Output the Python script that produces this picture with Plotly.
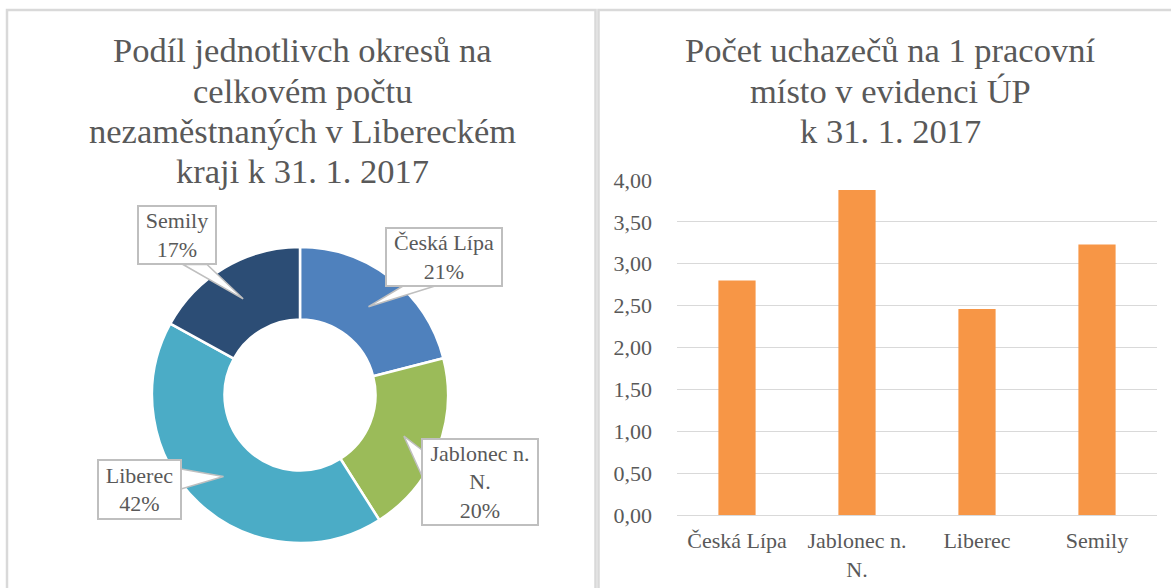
import math
import plotly.graph_objects as go

W, H = 1171, 588

# ---------------- data ----------------
districts = ["Česká Lípa", "Jablonec n. N.", "Liberec", "Semily"]
callout_names = ["Česká Lípa", "Jablonec n.<br>N.", "Liberec", "Semily"]
share_pct = [21, 20, 42, 17]
share_colors = ["#4F81BD", "#9BBB59", "#4BACC6", "#2C4D75"]

bar_categories = ["Česká Lípa", "Jablonec n.<br>N.", "Liberec", "Semily"]
applicants_per_job = [2.80, 3.88, 2.46, 3.23]
y_tick_values = [0, 0.5, 1.0, 1.5, 2.0, 2.5, 3.0, 3.5, 4.0]

left_title_lines = ["Podíl jednotlivch okresů na", "celkovém počtu",
                    "nezaměstnaných v Libereckém", "kraji k 31. 1. 2017"]
right_title_lines = ["Počet uchazečů na 1 pracovní", "místo v evidenci ÚP",
                     "k 31. 1. 2017"]

# ---------------- layout constants ----------------
TXT = "#595959"
FONT = "'Liberation Serif', 'Times New Roman', Tinos, 'DejaVu Serif', serif"
GRID = "#D9D9D9"

# donut geometry (pixels)
CX, CY, R_OUT, HOLE = 300, 395, 148, 0.51
R_MID = R_OUT * (1 + HOLE) / 2

# bar plot area (pixels)
PX0, PX1, PY_TOP, PY_BOT = 677, 1157, 180, 515


def px(x):
    return x / W


def py(y):
    return 1 - y / H


fig = go.Figure()

fig.add_trace(go.Pie(
    labels=districts, values=share_pct, sort=False, direction="clockwise",
    hole=HOLE, marker=dict(colors=share_colors, line=dict(color="white", width=2.5)),
    textinfo="none", showlegend=False, hoverinfo="label+percent",
    domain=dict(x=[px(CX - R_OUT), px(CX + R_OUT)], y=[py(CY + R_OUT), py(CY - R_OUT)]),
))

fig.add_trace(go.Bar(
    x=bar_categories, y=applicants_per_job, marker=dict(color="#F79646", line=dict(width=0)),
    xaxis="x", yaxis="y", showlegend=False,
))

# callout boxes (centre x, centre y, width, height) and wedge bases
callout_boxes = {
    "Česká Lípa": dict(cx=444, cy=257, w=118, h=60, base=("bottom", 403, 435)),
    "Jablonec n. N.": dict(cx=480, cy=482, w=118, h=88, base=("left", 450, 476)),
    "Liberec": dict(cx=139.5, cy=489.5, w=85, h=61, base=("right", 469, 489)),
    "Semily": dict(cx=177, cy=235.5, w=80, h=60, base=("bottom", 183, 207)),
}

annotations = []
shapes = []

# panel borders
shapes.append(dict(type="rect", xref="paper", yref="paper", x0=px(7), x1=px(595.5),
                   y0=py(600), y1=py(10), line=dict(color=GRID, width=2.5), layer="below"))
shapes.append(dict(type="rect", xref="paper", yref="paper", x0=px(598.5), x1=px(1180),
                   y0=py(600), y1=py(10), line=dict(color=GRID, width=2.5), layer="below"))

total = sum(share_pct)
cum = 0
for name, lab, v in zip(districts, callout_names, share_pct):
    mid = (cum + v / 2) / total * 2 * math.pi
    cum += v
    tx = CX + R_MID * math.sin(mid)
    ty = CY - R_MID * math.cos(mid)
    b = callout_boxes[name]
    side, a0, a1 = b["base"]
    if side == "bottom":
        yb = b["cy"] + b["h"] / 2 - 1
        p1, p2 = (a0, yb), (a1, yb)
    elif side == "left":
        xb = b["cx"] - b["w"] / 2 + 1
        p1, p2 = (xb, a0), (xb, a1)
    else:
        xb = b["cx"] + b["w"] / 2 - 1
        p1, p2 = (xb, a0), (xb, a1)
    path = "M {} {} L {} {} L {} {} Z".format(px(p1[0]), py(p1[1]), px(tx), py(ty),
                                             px(p2[0]), py(p2[1]))
    shapes.append(dict(type="path", xref="paper", yref="paper", path=path,
                       fillcolor="white", line=dict(color="#BFBFBF", width=1.5), layer="above"))
    annotations.append(dict(
        x=px(b["cx"]), y=py(b["cy"]), xref="paper", yref="paper", showarrow=False,
        text=f"{lab}<br>{v}%", align="center",
        font=dict(family=FONT, size=22, color=TXT),
        bgcolor="white", bordercolor="#BFBFBF", borderwidth=2, borderpad=0,
        width=b["w"] - 4, height=b["h"] - 4, xanchor="center", yanchor="middle",
    ))

# titles (one annotation per line)
title_line_y = [50, 91, 131, 171]
for i, t in enumerate(left_title_lines):
    annotations.append(dict(x=px(302), y=py(title_line_y[i]), xref="paper", yref="paper",
                            text=t, showarrow=False, xanchor="center", yanchor="middle",
                            font=dict(family=FONT, size=34.5, color=TXT)))
for i, t in enumerate(right_title_lines):
    annotations.append(dict(x=px(890), y=py(title_line_y[i]), xref="paper", yref="paper",
                            text=t, showarrow=False, xanchor="center", yanchor="middle",
                            font=dict(family=FONT, size=34.5, color=TXT)))

fig.update_layout(
    width=W, height=H, margin=dict(l=0, r=0, t=0, b=0, pad=0, autoexpand=False),
    paper_bgcolor="white", plot_bgcolor="white",
    font=dict(family=FONT, color=TXT),
    separators=", ",
    bargap=0.69,
    xaxis=dict(domain=[px(PX0), px(PX1)], showgrid=False, showline=False, ticks="",
               ticklabelstandoff=10, automargin=False,
               tickfont=dict(family=FONT, size=22, color=TXT), fixedrange=True),
    yaxis=dict(domain=[py(PY_BOT), py(PY_TOP)], range=[0, 4], tickvals=y_tick_values,
               tickformat=".2f", showgrid=True, gridcolor=GRID, gridwidth=1.3,
               zeroline=True, zerolinecolor=GRID, zerolinewidth=1.3, showline=False,
               ticks="", ticklabelstandoff=24, automargin=False,
               tickfont=dict(family=FONT, size=22, color=TXT), fixedrange=True),
    annotations=annotations, shapes=shapes,
)

fig.write_html(
    "out.html",
    config={"displayModeBar": False},
    post_script=(
        "document.documentElement.style.overflow='hidden';"
        "document.body.style.margin='0';document.body.style.padding='0';"
        "document.body.style.overflow='hidden';"
        "var d=document.getElementById('{plot_id}');"
        "d.style.position='fixed';d.style.left='0px';d.style.top='0px';"
    ),
)
